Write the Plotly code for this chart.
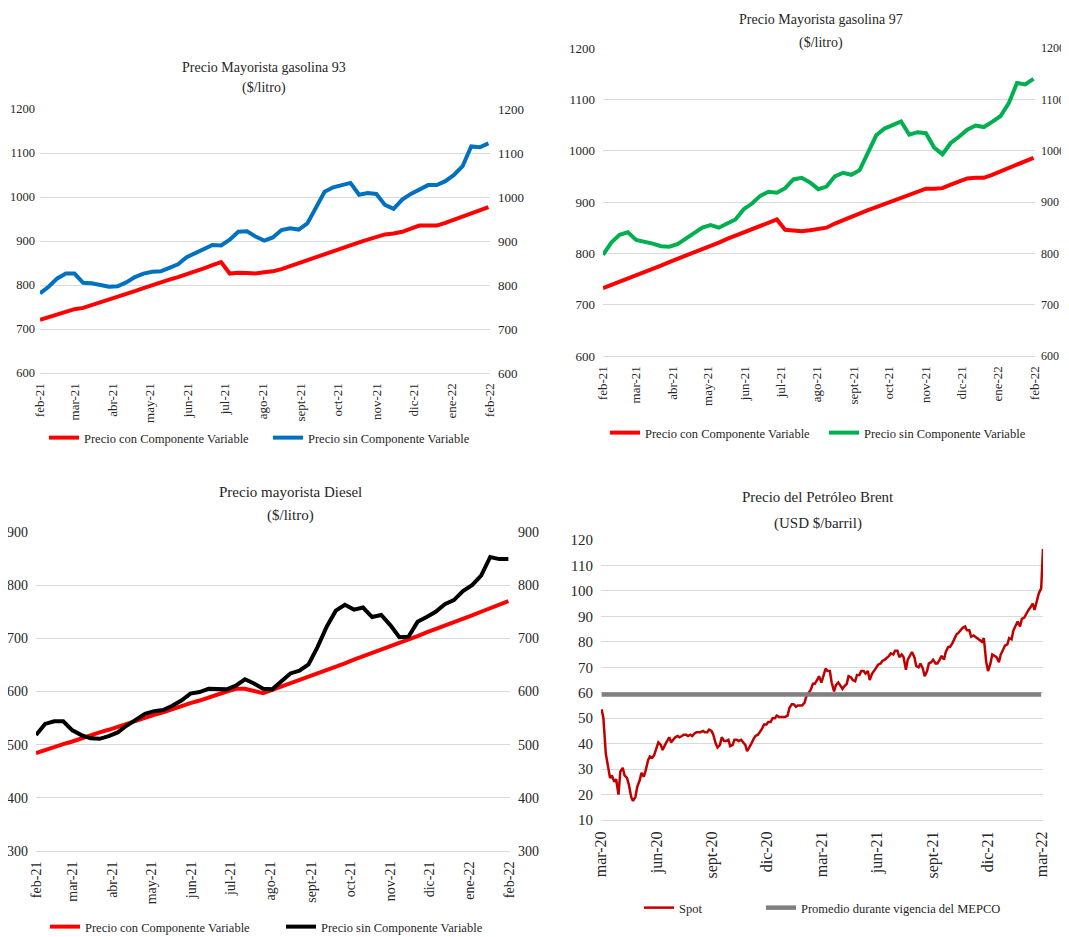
import pandas as pd
import plotly.graph_objects as go

FONT = "Times New Roman, Liberation Serif, serif"
PAGE_W, PAGE_H = 1069, 937
OFF = 8  # default body margin of the html page
W, H = PAGE_W - OFF, PAGE_H - OFF

# ---------------- data ----------------
weeks = pd.date_range("2021-02-01", periods=53, freq="7D")

g93_con = [721, 727, 733, 739, 745, 748, 754, 760, 766, 772,
           779, 786, 793, 800, 806, 812, 818, 824, 831, 838,
           845, 852, 826, 828, 827, 826, 829, 831, 836, 843,
           850, 857, 864, 871, 878, 885, 891, 897, 903, 909,
           915, 917, 921, 928, 935, 935, 935, 941, 948, 955,
           962, 969, 977]
g93_sin = [781, 796, 815, 826, 826, 805, 804, 799, 796, 797,
           806, 818, 826, 830, 831, 839, 847, 863, 872, 883,
           891, 890, 903, 921, 922, 910, 901, 908, 925, 929,
           926, 940, 975, 1012, 1022, 1028, 1032, 1005, 1009, 1007,
           982, 973, 994, 1007, 1018, 1027, 1027, 1036, 1050, 1070,
           1115, 1113, 1122]

g97_con = [732, 738, 745, 751, 757, 764, 770, 776, 783, 789,
           796, 802, 808, 815, 821, 828, 834, 840, 847, 853,
           859, 866, 846, 845, 843, 845, 848, 850, 858, 865,
           871, 878, 884, 890, 896, 903, 909, 915, 920, 926,
           926, 927, 934, 941, 946, 947, 947, 953, 960, 967,
           974, 980, 986]
g97_sin = [797, 821, 836, 841, 826, 823, 819, 814, 813, 818,
           829, 841, 850, 855, 850, 858, 866, 886, 897, 912,
           920, 918, 927, 944, 947, 938, 925, 930, 950, 957,
           953, 962, 995, 1030, 1043, 1050, 1057, 1031, 1036, 1034,
           1006, 993, 1015, 1027, 1041, 1049, 1046, 1056, 1067, 1092,
           1132, 1129, 1140]

die_con = [484, 490, 495, 501, 506, 512, 517, 523, 528, 534,
           539, 545, 550, 556, 561, 567, 572, 578, 583, 589,
           594, 600, 605, 605, 601, 597, 603, 609, 615, 622,
           628, 634, 641, 647, 653, 660, 666, 672, 679, 685,
           691, 698, 704, 711, 717, 724, 730, 737, 743, 750,
           756, 763, 770]
die_sin = [518, 539, 544, 544, 527, 518, 512, 511, 516, 523,
           536, 548, 558, 563, 565, 573, 583, 596, 599, 605,
           605, 604, 611, 623, 615, 605, 604, 619, 634, 639,
           651, 684, 722, 752, 763, 754, 758, 740, 744, 725,
           702, 703, 731, 740, 750, 764, 772, 789, 800, 818,
           853, 849, 849]

month_ticks = ["2021-02-01", "2021-03-01", "2021-04-01", "2021-05-01", "2021-06-01",
               "2021-07-01", "2021-08-01", "2021-09-01", "2021-10-01", "2021-11-01",
               "2021-12-01", "2022-01-01", "2022-02-01"]
month_labels = ["feb-21", "mar-21", "abr-21", "may-21", "jun-21", "jul-21", "ago-21",
                "sept-21", "oct-21", "nov-21", "dic-21", "ene-22", "feb-22"]

# Brent spot, twice a week (Monday, Thursday) from 2 Mar 2020 to 3 Mar 2022
mondays = pd.date_range("2020-03-02", "2022-02-28", freq="W-MON")
thursdays = pd.date_range("2020-03-05", "2022-03-03", freq="W-THU")
brent_dates = sorted(list(mondays) + list(thursdays))
brent_spot = [
    53.5, 50, 36, 32, 26.5, 27.5, 25, 26, 20, 29,
    30.5, 27.5, 26.5, 24, 19, 17.5, 19, 23, 25.5, 28.5,
    27, 29.5, 33.5, 35, 34.5, 35.5, 38, 40.5, 39.5, 37.5,
    39.5, 41, 42.5, 40.5, 41.5, 42.5, 43, 42.5, 43, 43.5,
    43.5, 43, 43.5, 43, 44, 44.5, 44.5, 44.5, 45, 44.5,
    44.5, 45.5, 45, 43.5, 40, 38.5, 39.5, 42.5, 41, 41,
    41.5, 39, 39.5, 41.5, 41.5, 41, 41.5, 40.5, 39.5, 37,
    38.5, 40, 42, 43, 43.5, 44.5, 46, 47.5, 47.5, 48.5,
    48.5, 50, 50, 51, 50.5, 50.5, 50.5, 50.5,
    51, 54, 55.5, 55.5, 54.5, 55, 55, 55, 56, 58.5,
    60, 61, 63.5, 63.5, 65, 66.5, 64, 66.5, 69.5, 68.5,
    68.5, 64, 60.5, 63, 64, 63, 61.5, 62.5, 63.5, 66.5,
    66, 65, 64.5, 67, 67, 68.5, 68.5, 67.5, 68.5, 65,
    67.5, 68.5, 70, 71, 71.5, 72.5, 73, 73.5, 74.5, 75.5,
    75, 76.5, 76.5, 74, 75, 74, 69, 73, 74.5, 76,
    74, 70.5, 70, 71.5, 69.5, 66.5, 68.5, 71.5, 72, 73,
    71.5, 71.5, 73, 74.5, 73, 76, 78, 78, 79.5, 81,
    83, 83.5, 84.5, 85.5, 86, 84.5, 84.5, 82, 82.5, 82,
    81, 80.5, 80, 81.5, 72, 68.5, 71.5, 75, 74.5, 74,
    72, 75, 77, 78.5,
    79, 81.5, 81, 84.5, 86.5, 88, 86, 89, 89.5, 91,
    92.5, 93.5, 95, 92.5, 96, 99, 101, 116.5,
]
MEPCO_AVG = 59.3
brent_ticks = ["2020-03-01", "2020-06-01", "2020-09-01", "2020-12-01", "2021-03-01",
               "2021-06-01", "2021-09-01", "2021-12-01", "2022-03-01"]
brent_labels = ["mar-20", "jun-20", "sept-20", "dic-20", "mar-21", "jun-21",
                "sept-21", "dic-21", "mar-22"]

# ---------------- helpers (page pixel -> paper fraction) ----------------
def fx(px):
    return (px - OFF) / W


def fy(py):
    return 1 - (py - OFF) / H


def dx(a, b):
    return [fx(a), fx(b)]


def dy(top, bottom):
    return [fy(bottom), fy(top)]


GRID = "#D9D9D9"
TXT = "#262626"

fig = go.Figure()

LBL_CON = "Precio con Componente Variable"
LBL_SIN = "Precio sin Componente Variable"


def line(x, y, name, color, width, xa, ya, lg):
    fig.add_trace(go.Scatter(x=x, y=y, name=name, mode="lines",
                             line=dict(color=color, width=width),
                             xaxis=xa, yaxis=ya, legend=lg, hoverinfo="x+y"))


# Panel 1
line(weeks, g93_con, LBL_CON, "#FF0000", 4, "x", "y", "legend")
line(weeks, g93_sin, LBL_SIN, "#0070C0", 4, "x", "y2", "legend2")
# Panel 2
line(weeks, g97_con, LBL_CON, "#FF0000", 4, "x2", "y3", "legend3")
line(weeks, g97_sin, LBL_SIN, "#00B050", 4, "x2", "y4", "legend4")
# Panel 3
line(weeks, die_con, LBL_CON, "#FF0000", 4, "x3", "y5", "legend5")
line(weeks, die_sin, LBL_SIN, "#000000", 4, "x3", "y6", "legend6")
# Panel 4
line(brent_dates, brent_spot, "Spot", "#C00000", 2.5, "x4", "y7", "legend7")
line([brent_dates[0], brent_dates[-2]], [MEPCO_AVG, MEPCO_AVG],
     "Promedio durante vigencia del MEPCO", "#808080", 4.5, "x4", "y7", "legend8")


def xax(domain, anchor, rng, tv, tt, size):
    return dict(domain=domain, anchor=anchor, type="date", range=rng, tickmode="array",
                tickvals=tv, ticktext=tt, tickangle=-90, showgrid=False, zeroline=False,
                showline=True, linecolor=GRID, linewidth=1, ticks="",
                ticklabelstandoff=4, tickfont=dict(family=FONT, size=size, color=TXT))


def yax(domain, anchor, rng, dtick, size, grid=True, overlay=None, side="left", standoff=7):
    d = dict(domain=domain, anchor=anchor, range=rng, dtick=dtick, tick0=0,
             showgrid=grid, gridcolor=GRID, gridwidth=1, zeroline=False, showline=False,
             ticks="", ticklabelstandoff=standoff, side=side,
             tickfont=dict(family=FONT, size=size, color=TXT))
    if overlay:
        d["overlaying"] = overlay
        d.pop("domain")
    return d


wk_rng = ["2021-02-01", "2022-02-01 06:00"]

fig.update_layout(
    width=W, height=H, margin=dict(l=0, r=0, t=0, b=0, autoexpand=False),
    paper_bgcolor="white", plot_bgcolor="white", showlegend=True,
    font=dict(family=FONT, color=TXT),
    xaxis=xax(dx(40, 490), "y", wk_rng, month_ticks, month_labels, 13),
    yaxis=yax(dy(109, 373), "x", [600, 1200], 100, 12.5, standoff=4),
    yaxis2=yax(None, "x", [600, 1200], 100, 13, grid=False, overlay="y", side="right"),
    xaxis2=xax(dx(603, 1035), "y3", wk_rng, month_ticks, month_labels, 13),
    yaxis3=yax(dy(48, 356), "x2", [600, 1200], 100, 13),
    yaxis4=yax(None, "x2", [600, 1200], 100, 12, grid=False, overlay="y3", side="right",
               standoff=5),
    xaxis3=xax(dx(36, 510), "y5", wk_rng, month_ticks, month_labels, 14),
    yaxis5=yax(dy(532, 851), "x3", [300, 900], 100, 14),
    yaxis6=yax(None, "x3", [300, 900], 100, 14, grid=False, overlay="y5", side="right"),
    xaxis4=xax(dx(601, 1043), "y7", ["2020-03-01", "2022-03-03"], brent_ticks, brent_labels, 16),
    yaxis7=yax(dy(540, 820), "x4", [10, 120], 10, 15),
)


def leg(textx, ypx):
    # legend item: line sample from +5 to +35 px, text starting at +40 px
    return dict(orientation="h", x=fx(textx - 40), y=fy(ypx), xanchor="left",
                yanchor="middle", font=dict(family=FONT, size=12.5, color=TXT),
                bgcolor="rgba(0,0,0,0)", itemclick=False, itemdoubleclick=False)


fig.update_layout(
    legend=leg(84, 438), legend2=leg(308, 438),
    legend3=leg(645, 433), legend4=leg(864, 433),
    legend5=leg(85, 927), legend6=leg(321, 927),
    legend7=leg(679, 908), legend8=leg(801, 908),
)

titles = [
    ("Precio Mayorista gasolina 93", 264, 67, 14),
    ("($/litro)", 264, 88, 14),
    ("Precio Mayorista gasolina 97", 821, 20, 14),
    ("($/litro)", 821, 43, 14),
    ("Precio mayorista Diesel", 290, 492, 15),
    ("($/litro)", 290, 515, 15),
    ("Precio del Petróleo Brent", 818, 497, 15),
    ("(USD $/barril)", 818, 523, 15),
]
for text, xp, yp, sz in titles:
    fig.add_annotation(text=text, x=fx(xp), y=fy(yp), xref="paper", yref="paper",
                       xanchor="center", yanchor="middle", showarrow=False,
                       font=dict(family=FONT, size=sz, color=TXT))

fig.write_html("out.html")
